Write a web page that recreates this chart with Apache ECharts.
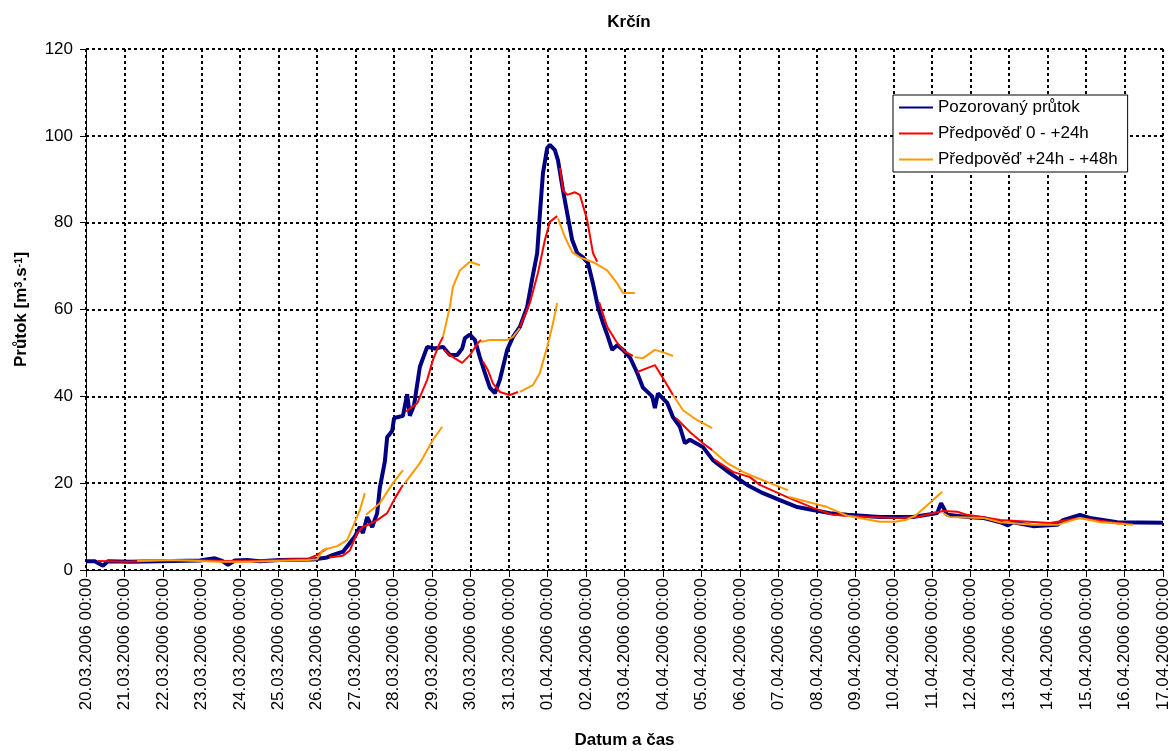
<!DOCTYPE html>
<html>
<head>
<meta charset="utf-8">
<script src="https://cdn.jsdelivr.net/npm/echarts@6/dist/echarts.min.js"></script>
<style>
  html, body { margin: 0; padding: 0; background: #fff; }
  #chart { width: 1171px; height: 751px; }
</style>
</head>
<body>
<div id="chart"></div>
<script>
// Day labels on the time axis (x = days since 20.03.2006 00:00)
const dateLabels = [
  '20.03.2006 00:00', '21.03.2006 00:00', '22.03.2006 00:00', '23.03.2006 00:00',
  '24.03.2006 00:00', '25.03.2006 00:00', '26.03.2006 00:00', '27.03.2006 00:00',
  '28.03.2006 00:00', '29.03.2006 00:00', '30.03.2006 00:00', '31.03.2006 00:00',
  '01.04.2006 00:00', '02.04.2006 00:00', '03.04.2006 00:00', '04.04.2006 00:00',
  '05.04.2006 00:00', '06.04.2006 00:00', '07.04.2006 00:00', '08.04.2006 00:00',
  '09.04.2006 00:00', '10.04.2006 00:00', '11.04.2006 00:00', '12.04.2006 00:00',
  '13.04.2006 00:00', '14.04.2006 00:00', '15.04.2006 00:00', '16.04.2006 00:00',
  '17.04.2006 00:00'
];

const seriesNames = ['Pozorovaný průtok', 'Předpověď 0 - +24h', 'Předpověď +24h - +48h'];

// Observed discharge [day, m3/s]
const observed = [
  [0, 2.0], [0.23, 2.0], [0.44, 1.0], [0.57, 2.0], [1.14, 1.9], [1.92, 2.0], [2.96, 2.2],
  [3.35, 2.7], [3.54, 2.1], [3.69, 1.2], [3.87, 2.2], [4.19, 2.3], [4.52, 2.0], [5.04, 2.3],
  [5.9, 2.4], [6.27, 2.9], [6.42, 3.5], [6.68, 4.2], [6.86, 6.2], [6.99, 7.7], [7.12, 9.9],
  [7.2, 8.5], [7.31, 12.2], [7.44, 9.9], [7.57, 13.1], [7.64, 19], [7.77, 25], [7.83, 30.6],
  [7.96, 32], [8.01, 35], [8.24, 35.5], [8.35, 40.5], [8.42, 35.5], [8.53, 38], [8.68, 46.8],
  [8.87, 51.4], [9.07, 51], [9.28, 51.4], [9.46, 49.5], [9.65, 49.5], [9.78, 51], [9.85, 53.4],
  [9.98, 54.2], [10.11, 53], [10.24, 49], [10.37, 45.4], [10.5, 42], [10.63, 40.7], [10.76, 43.8],
  [10.95, 50.7], [11.1, 53.7], [11.28, 56], [11.47, 60.6], [11.62, 68], [11.73, 73], [11.8, 82],
  [11.88, 91.4], [11.99, 97.2], [12.06, 97.9], [12.19, 96.7], [12.27, 94.4], [12.4, 87.5],
  [12.51, 82.2], [12.64, 76], [12.77, 73], [12.92, 72], [13.05, 70.7], [13.18, 66], [13.31, 60.6],
  [13.44, 56.9], [13.57, 53.7], [13.68, 50.7], [13.81, 51.8], [13.96, 50.7], [14.14, 49],
  [14.33, 45.4], [14.48, 42], [14.72, 40], [14.79, 37.3], [14.87, 40.7], [15.11, 38.5],
  [15.26, 35.2], [15.44, 33], [15.57, 29.2], [15.7, 30], [16.04, 28.3], [16.3, 25.3],
  [16.74, 22.3], [17.19, 19.6], [17.6, 17.7], [18.04, 16.1], [18.49, 14.5], [18.9, 13.8],
  [19.34, 13.1], [19.79, 12.7], [20.64, 12.2], [21.5, 12.2], [22.13, 13.1], [22.23, 15.4],
  [22.39, 12.7], [22.91, 12.2], [23.32, 12], [23.77, 11], [23.97, 10.3], [24.1, 11],
  [24.62, 10.1], [25.25, 10.4], [25.4, 11.5], [25.84, 12.7], [26.1, 12], [26.81, 11], [28, 10.9]
];

// Forecast 0..+24 h, one piece per daily run (null = gap between runs)
const forecast24 = [
  [0.31, 2.1], [1.07, 1.9], [1.92, 2.2], [2.78, 2.3], [3.67, 2.1], [4.52, 2.2], [5.38, 2.5],
  [5.75, 2.5], [6.01, 3.5], [6.27, 5.0], null,
  [6.32, 2.9], [6.68, 3.3], [6.86, 4.5], [7.05, 8.5], [7.2, 10], [7.31, 10.3], [7.57, 11.5],
  [7.83, 13.1], [8.03, 16.5], [8.24, 19.6], null,
  [8.32, 36.5], [8.61, 38.4], [8.87, 43.8], [9.02, 48.4], [9.2, 52.3], [9.28, 53.7], null,
  [9.31, 50.7], [9.46, 49.5], [9.78, 47.7], [9.98, 49.5], [10.19, 52.3], [10.27, 53], null,
  [10.32, 48], [10.45, 46], [10.58, 43], [10.76, 41], [11.02, 40.3], [11.23, 41], null,
  [11.28, 56], [11.54, 61.5], [11.75, 68.4], [11.93, 76], [12.06, 80.2], [12.25, 81.5], null,
  [12.32, 92.6], [12.4, 87.5], [12.51, 86.4], [12.71, 87], [12.84, 86.4], [13.03, 80.6],
  [13.18, 73], [13.29, 71], null,
  [13.34, 61.7], [13.55, 56], [13.81, 52.3], [14.01, 50.3], [14.22, 49.3], null,
  [14.33, 45.6], [14.59, 46.5], [14.79, 47.2], [15.0, 44.2], [15.26, 40.3], null,
  [15.34, 35], [15.7, 31.8], [16.04, 29.2], [16.28, 27.6], null,
  [16.33, 25.5], [16.82, 22.6], [17.26, 21.4], [17.52, 19.6], [18.23, 16.8], [18.9, 14.3],
  [19.42, 12.7], [20.31, 12.2], [21.16, 12], [21.61, 12.2], [22.28, 13.6], [22.65, 13.4],
  [22.91, 12.7], [23.77, 11.5], [25.06, 10.8], [25.84, 12], [26.81, 10.8], [27.01, 10.7]
];

// Forecast +24..+48 h, one piece per daily run
const forecast48 = [
  [1.33, 2.1], [2.18, 2.3], [3.48, 1.9], [4.19, 1.9], [4.97, 2.1], [5.75, 2.3], [6.01, 2.5],
  [6.16, 4.6], [6.53, 5.5], [6.79, 6.9], [6.94, 10], [7.12, 13.8], [7.25, 17.7], null,
  [7.28, 12.7], [7.64, 15.4], [7.98, 20], [8.24, 23], null,
  [8.29, 20], [8.68, 24.6], [9.02, 30], [9.26, 33], null,
  [9.28, 53.7], [9.46, 60.6], [9.54, 65.2], [9.72, 69], [9.98, 71], [10.24, 70.2], null,
  [10.27, 52.5], [10.5, 53], [10.95, 53], [11.1, 53.7], [11.28, 55.7], null,
  [11.28, 41], [11.62, 42.6], [11.8, 45.4], [11.99, 51.4], [12.12, 56], [12.25, 61.5], null,
  [12.27, 81], [12.45, 76.7], [12.64, 73.2], [12.84, 72], [13.03, 71.4], [13.23, 70.7],
  [13.55, 69], [13.81, 66], [13.96, 63.8], [14.27, 63.8], null,
  [14.27, 49], [14.48, 48.8], [14.79, 50.7], [15.05, 50], [15.26, 49.3], null,
  [15.26, 40.3], [15.52, 36.8], [15.89, 34.5], [16.28, 32.7], null,
  [16.28, 27.6], [16.67, 24.6], [17.08, 22.6], [17.34, 21.6], [17.78, 20], [18.25, 18.4], null,
  [18.28, 16.8], [18.75, 15.7], [19.27, 14.5], [19.79, 12.5], [20.64, 11.1], [21.03, 11.1],
  [21.3, 11.5], [21.56, 12.5], [21.82, 14.5], [22.07, 16.5], [22.26, 18], null,
  [22.28, 13.1], [22.46, 12.2], [23.32, 12], [23.77, 11], [24.62, 10.4], [25.25, 10.4],
  [25.84, 12], [26.37, 11], [27.22, 10.4]
];

// null marks a break in the line
const withGaps = pts => pts.map(p => (p === null ? ['-', '-'] : p));

const FONT = "'Liberation Sans', Arial, sans-serif";
const gridLine = { show: true, lineStyle: { color: '#000', width: 2, type: [3, 3] } };

const chart = echarts.init(document.getElementById('chart'), null, { renderer: 'canvas' });
chart.setOption({
  animation: false,
  backgroundColor: '#fff',
  textStyle: { fontFamily: FONT },
  title: {
    text: 'Krčín',
    left: 624, textAlign: 'center', top: 9,
    textStyle: { fontFamily: FONT, fontSize: 17, fontWeight: 'bold', color: '#000' }
  },
  legend: {
    data: seriesNames,
    orient: 'vertical',
    left: 893, top: 95,
    padding: [4, 10, 4, 5],
    itemWidth: 34, itemHeight: 14, itemGap: 9,
    backgroundColor: '#fff',
    borderColor: '#000', borderWidth: 1,
    itemStyle: { opacity: 0 },
    textStyle: { fontFamily: FONT, fontSize: 17, color: '#000', lineHeight: 17 }
  },
  grid: {
    left: 86, right: 8, top: 49, bottom: 181,
    containLabel: false, outerBoundsMode: 'none'
  },
  xAxis: {
    type: 'value', min: 0, max: 28, interval: 1,
    name: 'Datum a čas', nameLocation: 'middle', nameGap: 162,
    nameTextStyle: { fontFamily: FONT, fontSize: 17, fontWeight: 'bold', color: '#000' },
    axisLine: { show: true, onZero: false, lineStyle: { color: '#000', width: 1 } },
    axisTick: { show: true, length: 7, lineStyle: { color: '#000' } },
    axisLabel: {
      rotate: 90, margin: 8, fontFamily: FONT, fontSize: 17, color: '#000',
      hideOverlap: false, showMinLabel: true, showMaxLabel: true,
      formatter: v => dateLabels[Math.round(v)] || ''
    },
    splitLine: gridLine
  },
  yAxis: {
    type: 'value', min: 0, max: 120, interval: 20,
    name: '{b|Průtok [m}{s|3}{b|.s}{s|-1}{b|]}',
    nameLocation: 'middle', nameGap: 56, nameRotate: 90,
    nameTextStyle: {
      rich: {
        b: { fontFamily: FONT, fontSize: 17, fontWeight: 'bold', color: '#000' },
        s: { fontFamily: FONT, fontSize: 11, fontWeight: 'bold', color: '#000', verticalAlign: 'top' }
      }
    },
    axisLine: { show: true, lineStyle: { color: '#000', width: 1 } },
    axisTick: { show: true, length: 6, lineStyle: { color: '#000' } },
    axisLabel: { margin: 13, fontFamily: FONT, fontSize: 17, color: '#000' },
    splitLine: gridLine
  },
  series: [
    {
      name: seriesNames[0], type: 'line', data: observed,
      showSymbol: false, symbol: 'none', smooth: false,
      lineStyle: { color: '#000080', width: 4 }, itemStyle: { color: '#000080' }, z: 2
    },
    {
      name: seriesNames[1], type: 'line', data: withGaps(forecast24),
      showSymbol: false, symbol: 'none', connectNulls: false,
      lineStyle: { color: '#ff0000', width: 2 }, itemStyle: { color: '#ff0000' }, z: 3
    },
    {
      name: seriesNames[2], type: 'line', data: withGaps(forecast48),
      showSymbol: false, symbol: 'none', connectNulls: false,
      lineStyle: { color: '#ff9900', width: 2 }, itemStyle: { color: '#ff9900' }, z: 4
    }
  ]
});
</script>
</body>
</html>
